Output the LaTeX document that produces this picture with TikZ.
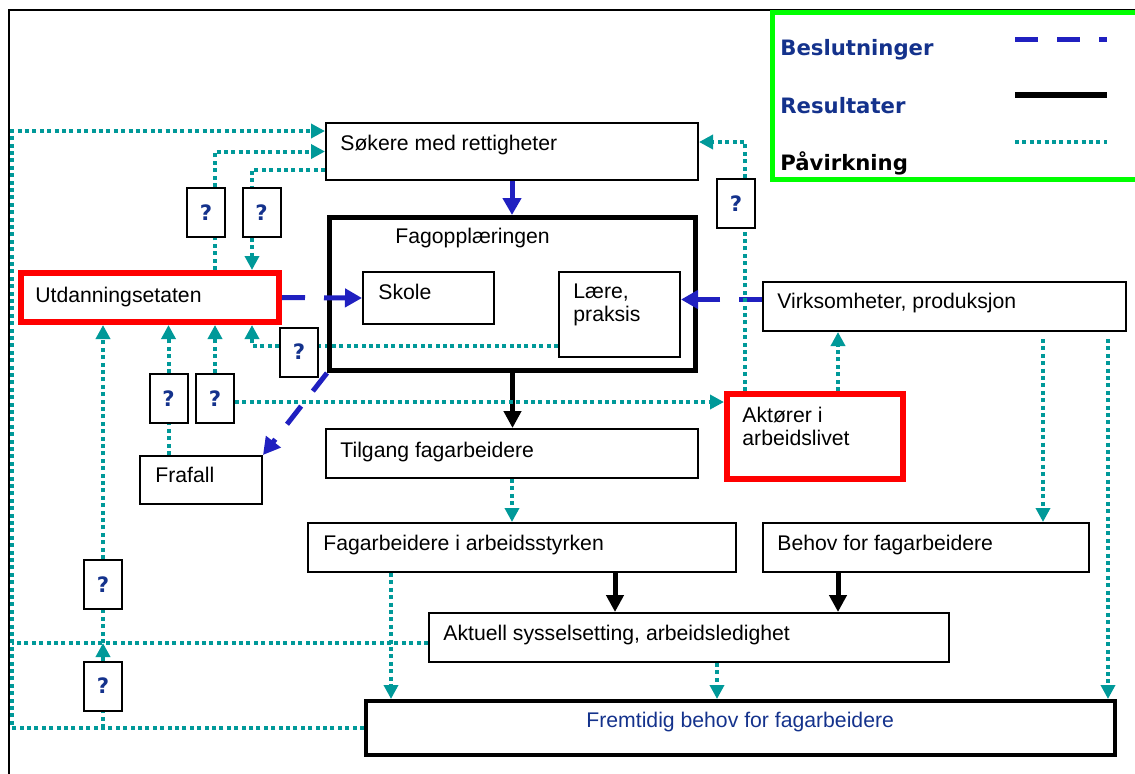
\documentclass[tikz,border=0pt]{standalone}
\usepackage{fontspec}
\setmainfont{Liberation Sans}
\newfontfamily\legendfont{DejaVu Sans}
\usetikzlibrary{arrows.meta,backgrounds}

\definecolor{deccolor}{RGB}{32,32,192}
\definecolor{infcolor}{RGB}{0,153,153}
\definecolor{navytext}{RGB}{20,50,140}
\definecolor{legendgreen}{RGB}{0,255,0}
\newcommand{\legendbold}{\legendfont\fontsize{10.6}{11.5}\selectfont\bfseries}

\tikzset{
  box/.style={draw, line width=1pt, inner sep=0pt},
  thickbox/.style={box, line width=2.5pt},
  redbox/.style={box, draw=red, line width=3pt},
  qbox/.style={box, minimum width=19pt, minimum height=24.5pt, font=\legendbold, text=navytext},
  txt/.style={inner sep=0pt, anchor=base west, align=left},
  legendtxt/.style={txt, font=\legendbold},
  decision/.style={draw=deccolor, line width=2.5pt, dash pattern=on 11.5pt off 9.5pt, -{Triangle[length=8.5pt,width=9pt]}},
  result/.style={line width=2.5pt, -{Triangle[length=8.5pt,width=8.5pt]}},
  influence/.style={draw=infcolor, line width=2pt, dash pattern=on 2pt off 1.7pt},
  infarrow/.style={influence, -{Triangle[length=7pt,width=7pt]}}
}

\begin{document}
\begin{tikzpicture}[x=0.5pt, y=-0.5pt, font=\fontsize{10.6}{11.5}\selectfont]
  \useasboundingbox (0,0) rectangle (1135,773);

  % frame and legend
  \draw[line width=1pt] (9,790) -- (9,10) -- (1150,10);
  \draw[draw=legendgreen, line width=2.5pt, fill=white] (772.5,12.5) rectangle (1150,179.5);
  \node[legendtxt, text=navytext] (beslut) at (780,55) {Beslutninger};
  \node[legendtxt, text=navytext] (result) at (780,113) {Resultater};
  \node[legendtxt] (paavirk) at (780,170) {Påvirkning};
  \draw[decision, -] (1015,39) -- (1107,39);
  \draw[line width=3pt] (1015,95) -- (1107,95);
  \draw[influence] (1015,142) -- (1107,142);

  % boxes
  \node[box, minimum width=186pt, minimum height=28.5pt] (soker) at (512,151.5) {};
  \node[thickbox, minimum width=183pt, minimum height=76.5pt] (fag) at (512.5,294) {};
  \node[box, minimum width=65.5pt, minimum height=26pt] (skole) at (428.5,298) {};
  \node[box, minimum width=60.5pt, minimum height=42.5pt] (laere) at (619.5,314.5) {};
  \node[redbox, minimum width=129pt, minimum height=24.5pt] (utd) at (150,297.5) {};
  \node[box, minimum width=181.5pt, minimum height=24.5pt] (virk) at (944.5,306.5) {};
  \node[redbox, minimum width=88pt, minimum height=42.5pt] (aktor) at (815,436.5) {};
  \node[box, minimum width=61pt, minimum height=24pt] (frafall) at (201,480) {};
  \node[box, minimum width=186pt, minimum height=24.5pt] (tilgang) at (512,453.5) {};
  \node[box, minimum width=214pt, minimum height=24.5pt] (fagarb) at (522,547.5) {};
  \node[box, minimum width=163pt, minimum height=24.5pt] (behov) at (926,547.5) {};
  \node[box, minimum width=260pt, minimum height=24.5pt] (aktuell) at (689,637.5) {};
  \node[box, line width=2pt, minimum width=374.5pt, minimum height=27pt] (fremtid) at (740.5,728) {};

  % texts
  \node[txt] (sokertxt) at (340,150) {Søkere med rettigheter};
  \node[txt] (fagtxt) at (395,243) {Fagopplæringen};
  \node[txt] (skoletxt) at (378,299) {Skole};
  \node[txt, anchor=north west] (laeretxt) at (573,284) {Lære,\\praksis};
  \node[txt] (utdtxt) at (35,302) {Utdanningsetaten};
  \node[txt] (virktxt) at (777,308) {Virksomheter, produksjon};
  \node[txt, anchor=north west] (aktortxt) at (742,407) {Aktører i\\arbeidslivet};
  \node[txt] (frafalltxt) at (155,482) {Frafall};
  \node[txt] (tilgangtxt) at (340,457) {Tilgang fagarbeidere};
  \node[txt] (fagarbtxt) at (323,550) {Fagarbeidere i arbeidsstyrken};
  \node[txt] (behovtxt) at (777,550) {Behov for fagarbeidere};
  \node[txt] (aktuelltxt) at (443,640) {Aktuell sysselsetting, arbeidsledighet};
  \node[txt, text=navytext] (fremtidtxt) at (586,727) {Fremtidig behov for fagarbeidere};

  % question marks
  \node[qbox] (q1) at (206,212.5) {?};
  \node[qbox] (q2) at (261.5,212.5) {?};
  \node[qbox] (q3) at (299,352) {?};
  \node[qbox] (q4) at (168.5,398.5) {?};
  \node[qbox] (q5) at (215,398.5) {?};
  \node[qbox] (q6) at (736,203.5) {?};
  \node[qbox] (q7) at (103,584.5) {?};
  \node[qbox] (q8) at (103,686) {?};

  % decisions
  \draw[decision] (soker.south) -- (soker.south |- fag.north);
  \draw[decision] (utd.east) -- (skole.west);
  \draw[decision] ([yshift=3.5pt]virk.west) -- ([yshift=3.5pt]virk.west -| laere.east);
  \draw[decision] (fag.south west) -- (frafall.north east);

  % results
  \draw[result] (fag.south) -- (fag.south |- tilgang.north);
  \draw[result] ([xshift=46.5pt]fagarb.south) -- ([xshift=46.5pt]fagarb.south |- aktuell.north);
  \draw[result] ([xshift=-44pt]behov.south) -- ([xshift=-44pt]behov.south |- aktuell.north);

  % influences
  \draw[infarrow] (tilgang.south) -- (tilgang.south |- fagarb.north);
  \draw[infarrow] ([xshift=-65.5pt]fagarb.south) -- ([xshift=-65.5pt]fagarb.south |- fremtid.north);
  \draw[infarrow] ([xshift=14pt]aktuell.south) -- ([xshift=14pt]aktuell.south |- fremtid.north);
  \draw[infarrow, shorten <=3.5pt] ([xshift=49.25pt]virk.south) -- ([xshift=49.25pt]virk.south |- behov.north);
  \draw[infarrow, shorten <=3.5pt] ([xshift=81.75pt]virk.south) -- ([xshift=81.75pt]virk.south |- fremtid.north);
  \draw[infarrow] ([xshift=11.5pt]aktor.north) -- ([xshift=11.5pt]aktor.north |- virk.south);
  \draw[influence] ([xshift=-35pt]aktor.north) -- ([xshift=-35pt]aktor.north |- q6.south);
  \draw[infarrow] ([xshift=4.5pt]q6.north) |- ([yshift=4.75pt]soker.east);
  \draw[infarrow] ([yshift=-1.75pt]q5.east) -- ([yshift=-1.75pt]q5.east -| aktor.west);
  \draw[infarrow] (q5.north) -- (q5.north |- utd.south);
  \draw[influence] (q4.south |- frafall.north) -- (q4.south);
  \draw[infarrow] (q4.north) -- (q4.north |- utd.south);
  \begin{scope}[on background layer]
    \draw[influence] ([yshift=-15.75pt]laere.west) -- ([yshift=-15.75pt]laere.west -| q3.east);
  \end{scope}
  \draw[infarrow] ([yshift=3pt]q3.west) -| ([xshift=51pt]utd.south);
  \draw[influence] ([yshift=-9.25pt]soker.west) -| ([xshift=-4.75pt]q2.north);
  \draw[infarrow] ([xshift=-4.75pt]q2.south) -- ([xshift=51pt]utd.north);
  \draw[influence] ([xshift=32.5pt]utd.north) -- ([xshift=4.5pt]q1.south);
  \draw[infarrow] ([xshift=4.5pt]q1.north) |- (soker.west);

  % feedback along the left edge
  \coordinate (edge) at (12,131);
  \coordinate (mid) at ([yshift=-2.75pt]aktuell.west);
  \draw[infarrow] (fremtid.west) -| (edge) -- (edge -| soker.west);
  \draw[influence] (mid) -- (mid -| edge);
  \draw[influence] (q8.south |- fremtid.west) -- (q8.south);
  \draw[infarrow] (q8.north) -- (q8.north |- mid);
  \draw[influence] (q7.south |- mid) -- (q7.south);
  \draw[infarrow] (q7.north) -- (q7.north |- utd.south);
\end{tikzpicture}
\end{document}
